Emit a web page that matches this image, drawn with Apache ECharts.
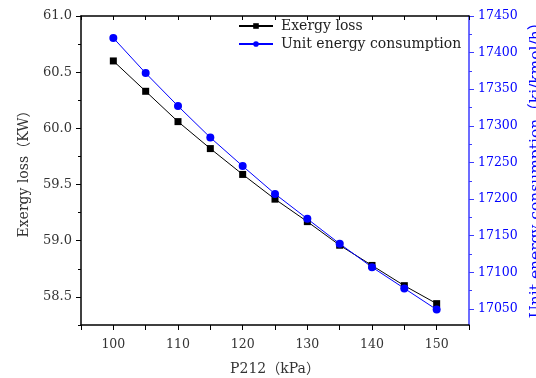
<!DOCTYPE html>
<html>
<head>
<meta charset="utf-8">
<script src="https://cdn.jsdelivr.net/npm/echarts@6/dist/echarts.min.js"></script>
<style>html,body{margin:0;padding:0;background:#fff}#c{width:536px;height:378px}</style>
</head>
<body>
<div id="c"></div>
<script>
const pressure = [100, 105, 110, 115, 120, 125, 130, 135, 140, 145, 150];
const exergyLoss = [60.60, 60.33, 60.06, 59.82, 59.59, 59.37, 59.17, 58.96, 58.78, 58.60, 58.44];
const unitEnergy = [17420, 17372, 17327, 17284, 17245, 17207, 17173, 17139, 17107, 17078, 17049];
const xLabels = [100, 110, 120, 130, 140, 150];
const leftMajor = [58.5, 59.0, 59.5, 60.0, 60.5, 61.0];
const leftMinor = [58.25, 58.75, 59.25, 59.75, 60.25, 60.75];
const rightMajor = [17050, 17100, 17150, 17200, 17250, 17300, 17350, 17400, 17450];
const rightMinor = [17075, 17125, 17175, 17225, 17275, 17325, 17375, 17425];

const FONT = "DejaVu Serif, Noto Sans CJK SC, serif";
const BLUE = '#0000ff';
const AXBLUE = '#3b3bff';

const chart = echarts.init(document.getElementById('c'), null, {renderer: 'canvas'});
chart.setOption({
  animation: false,
  backgroundColor: '#fff',
  grid: {left: 81, right: 67, top: 16, bottom: 53, containLabel: false, outerBoundsMode: 'none'},
  legend: {
    orient: 'vertical', left: 238, top: 19, padding: 0, itemWidth: 34, itemHeight: 7, itemGap: 4,
    textStyle: {fontFamily: FONT, fontSize: 14, color: '#222', padding: [0, 0, 0, 3]},
    data: ['Exergy loss', 'Unit energy consumption']
  },
  xAxis: [
    {
      type: 'value', min: 95, max: 155, interval: 5, position: 'bottom',
      name: 'P212（kPa）', nameLocation: 'middle', nameGap: 37,
      nameTextStyle: {fontFamily: FONT, fontSize: 14, color: '#333'},
      axisLine: {show: true, lineStyle: {color: '#000', width: 1.5}},
      axisTick: {show: true, inside: false, length: 5, lineStyle: {color: '#000', width: 1}},
      axisLabel: {customValues: xLabels, fontFamily: FONT, fontSize: 12.5, color: '#333', margin: 13,
        formatter: v => String(v)},
      splitLine: {show: false}
    },
    {
      type: 'value', min: 95, max: 155, interval: 5, position: 'top',
      axisLine: {show: true, lineStyle: {color: '#000', width: 1.5}},
      axisTick: {show: true, inside: true, length: 4, lineStyle: {color: '#000', width: 1}},
      axisLabel: {show: false}, splitLine: {show: false}
    }
  ],
  yAxis: [
    {
      type: 'value', min: 58.25, max: 61.0, position: 'left',
      name: 'Exergy loss（KW）', nameLocation: 'middle', nameGap: 50, nameRotate: 90,
      nameTextStyle: {fontFamily: FONT, fontSize: 14, color: '#333'},
      axisLine: {show: true, lineStyle: {color: '#000', width: 1.5}},
      axisTick: {show: true, inside: false, length: 5, customValues: leftMajor, lineStyle: {color: '#000', width: 1}},
      axisLabel: {customValues: leftMajor, fontFamily: FONT, fontSize: 13, color: '#333', margin: 9,
        formatter: v => v.toFixed(1)},
      splitLine: {show: false}
    },
    {
      type: 'value', min: 58.25, max: 61.0, position: 'left',
      axisLine: {show: false},
      axisTick: {show: true, inside: false, length: 3, customValues: leftMinor, lineStyle: {color: '#000', width: 1}},
      axisLabel: {show: false}, splitLine: {show: false}
    },
    {
      type: 'value', min: 17028, max: 17450, position: 'right',
      name: 'Unit energy consumption（kj/kmol/h）', nameLocation: 'middle', nameGap: 49, nameRotate: 90,
      nameTextStyle: {fontFamily: FONT, fontSize: 15.5, color: BLUE, padding: [0, 0, 0, 8]},
      axisLine: {show: true, lineStyle: {color: AXBLUE, width: 1.5}},
      axisTick: {show: true, inside: false, length: 5, customValues: rightMajor, lineStyle: {color: AXBLUE, width: 1}},
      axisLabel: {customValues: rightMajor, fontFamily: FONT, fontSize: 12.5, color: BLUE, margin: 9,
        formatter: v => String(v)},
      splitLine: {show: false}
    },
    {
      type: 'value', min: 17028, max: 17450, position: 'right',
      axisLine: {show: false},
      axisTick: {show: true, inside: false, length: 3, customValues: rightMinor, lineStyle: {color: AXBLUE, width: 1}},
      axisLabel: {show: false}, splitLine: {show: false}
    }
  ],
  series: [
    {
      name: 'Exergy loss', type: 'line', xAxisIndex: 0, yAxisIndex: 0,
      data: pressure.map((p, i) => [p, exergyLoss[i]]),
      symbol: 'rect', symbolSize: 7,
      lineStyle: {color: '#000', width: 1}, itemStyle: {color: '#000'}
    },
    {
      name: 'Unit energy consumption', type: 'line', xAxisIndex: 0, yAxisIndex: 2,
      data: pressure.map((p, i) => [p, unitEnergy[i]]),
      symbol: 'circle', symbolSize: 8,
      lineStyle: {color: BLUE, width: 1}, itemStyle: {color: BLUE}
    }
  ]
});
</script>
</body>
</html>
